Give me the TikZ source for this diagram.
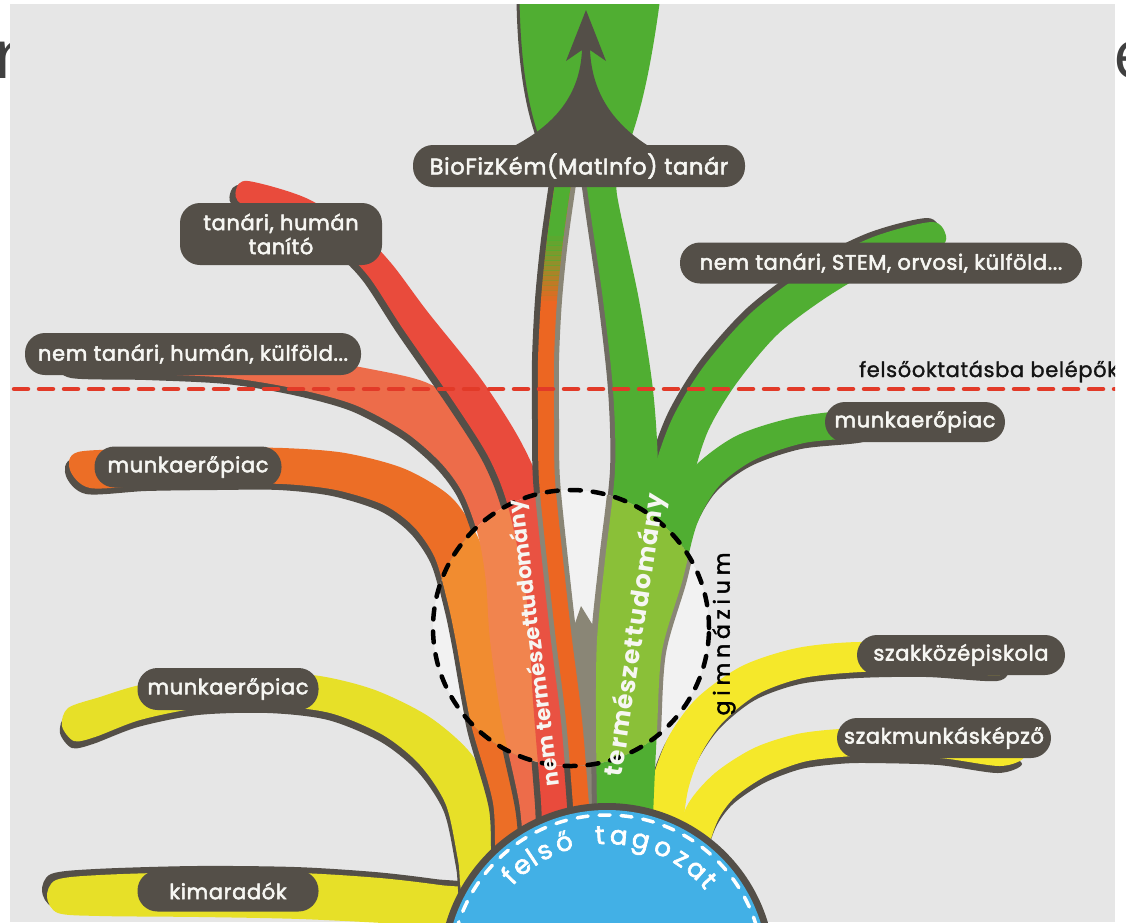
\documentclass[tikz,border=0pt]{standalone}
\usepackage{fontspec}
\setmainfont{Poppins}
\newfontfamily\titlefont{Open Sans}
\newfontfamily\lblfont{Poppins}[LetterSpace=3, FakeBold=2.5]
\newfontfamily\felfont{Poppins}[LetterSpace=3, FakeBold=1.5]
\newfontfamily\tagfont{Poppins}[FakeBold=2.5]
\newfontfamily\gimfont{Poppins}[LetterSpace=22, FakeBold=2]
\newfontfamily\termfont{Poppins}[LetterSpace=5]
\newfontfamily\nemfont{Poppins}[LetterSpace=1]
\definecolor{panel}{RGB}{230,230,230}
\definecolor{lightin}{RGB}{242,242,242}
\definecolor{dk}{RGB}{84,79,72}
\definecolor{trunk}{RGB}{138,134,118}
\definecolor{midgray}{RGB}{112,107,98}
\definecolor{cred}{RGB}{233,75,60}
\definecolor{credin}{RGB}{233,82,66}
\definecolor{csal}{RGB}{237,108,74}
\definecolor{csalin}{RGB}{241,132,78}
\definecolor{corg}{RGB}{236,110,38}
\definecolor{corgin}{RGB}{241,140,48}
\definecolor{cthin}{RGB}{236,102,34}
\definecolor{cgrn}{RGB}{80,174,50}
\definecolor{cgrnin}{RGB}{138,192,56}
\definecolor{cyl}{RGB}{231,224,40}
\definecolor{cyr}{RGB}{245,232,42}
\definecolor{cblue}{RGB}{66,176,230}
\definecolor{ctxt}{RGB}{246,246,242}
\definecolor{cdash}{RGB}{226,58,40}
\definecolor{ctitle}{RGB}{64,64,64}
\tikzset{
  lbl/.style={fill=dk, text=ctxt, rounded corners=20pt, inner sep=0pt,
    font=\lblfont\fontsize{21}{24}\selectfont, align=center},
}
\begin{document}
\begin{tikzpicture}[x=1pt,y=-1pt,line cap=round,line join=round]
\useasboundingbox (0,0) rectangle (1126,922);
% title remnants
\node[anchor=base west, inner sep=0pt, font=\titlefont\fontsize{68}{70}\selectfont, text=ctitle] (tr) at (-6,78) {r};
\node[anchor=base west, inner sep=0pt, font=\titlefont\fontsize{68}{70}\selectfont, text=ctitle] (te) at (1113,78) {e};
\fill[panel] (10,4) rectangle (1115,922);
\begin{scope}
\clip (10,4) rectangle (1115,922);
% ---------- paths
\def\pYtwo{plot[smooth cycle] coordinates {(47,897) (56,880) (100,875) (200,872) (300,873) (380,878) (440,885) (480,892) (480,930) (400,924) (300,919) (200,917) (100,916) (58,913)}}
\def\pYone{plot[smooth cycle] coordinates {(62,726) (68,708) (100,697) (140,685) (200,676) (260,672) (320,676) (375,690) (428,716) (468,750) (492,790) (502,850) (505,900) (465,900) (458,860) (446,805) (420,765) (383,735) (330,713) (270,706) (200,708) (140,720) (95,737) (74,741)}}
\def\pYRone{plot[smooth cycle] coordinates {(1012,662) (1000,649) (930,645) (858,642) (797,648) (742,666) (697,698) (669,736) (652,780) (642,827) (635,880) (675,882) (682,833) (688,790) (701,754) (723,722) (758,694) (803,678) (861,672) (930,671) (1000,675)}}
\def\pYRtwo{plot[smooth cycle] coordinates {(1024,757) (1000,744) (940,734) (870,730) (840,729) (797,734) (754,748) (715,773) (688,804) (673,847) (667,889) (701,891) (707,853) (718,820) (735,797) (766,776) (803,762) (840,757) (870,756) (940,758) (1000,766)}}
\def\pO{plot[smooth cycle] coordinates {(70,470) (78,452) (150,449) (220,448) (283,448) (345,453) (405,469) (452,498) (480,542) (492,596) (498,638) (511,716) (533,797) (539,880) (499,880) (493,803) (471,724) (456,642) (448,604) (435,558) (414,527) (384,505) (336,490) (283,484) (220,484) (150,485) (90,488)}}
\def\pS{plot[smooth cycle] coordinates {(62,358) (75,344) (150,346) (230,350) (303,358) (365,368) (425,382) (470,410) (500,450) (518,500) (528,560) (532,640) (540,720) (556,800) (567,880) (530,880) (519,802) (502,722) (490,640) (486,582) (478,535) (462,492) (440,462) (405,432) (355,405) (297,389) (230,378) (150,374) (75,372)}}
\def\pR{plot[smooth cycle] coordinates {(236,190) (248,181) (306,198) (359,231) (391,263) (427,311) (481,379) (521,442) (545,500) (563,598) (571,699) (579,799) (584,880) (546,880) (541,801) (533,701) (527,602) (509,510) (489,458) (453,401) (403,329) (369,277) (341,249) (294,218) (242,204)}}
\def\pT{plot[smooth] coordinates {(565,170) (555,240) (549,300) (546,360) (546,420) (547,480) (555,560) (564,640) (574,720) (582,820) (585,890)}}
\def\pG{plot[smooth cycle] coordinates {(586,165) (588,195) (603,300) (613,390) (615,470) (605,560) (597,640) (596,720) (597,820) (597,890) (650,890) (648,820) (648,720) (650,640) (655,560) (658,470) (653,390) (639,300) (617,195) (618,165)}}
\def\pGS{plot[smooth cycle] coordinates {(946,236) (932,222) (873,237) (810,269) (752,312) (704,366) (672,419) (652,477) (640,548) (628,640) (624,720) (620,820) (618,890) (653,890) (652,820) (655,720) (661,640) (680,552) (692,483) (708,431) (736,384) (778,334) (830,295) (887,263) (938,248)}}
\def\pGM{plot[smooth cycle] coordinates {(878,423) (864,410) (796,417) (736,436) (691,470) (663,516) (648,578) (636,649) (630,730) (627,820) (626,890) (653,890) (653,820) (657,730) (662,651) (682,582) (697,524) (719,486) (754,460) (804,443) (866,436)}}
\def\pTrunk{(581,606) -- (597,632) -- (598,890) -- (579,890) -- (572,632) -- cycle}
% ---------- yellow ribbons
\fill[dk, shift={(-5,-6)}] \pYtwo; \fill[cyl] \pYtwo;
\fill[dk, shift={(-2,7)}] \pYone; \fill[cyl] \pYone;
\fill[dk, shift={(-2,7)}] \pYRtwo; \fill[cyr] \pYRtwo;
\fill[dk, shift={(-3,6)}] \pYRone; \fill[cyr] \pYRone;
% ---------- left ribbons
\fill[dk, shift={(-4,6)}] \pO; \fill[corg] \pO;
\fill[dk, shift={(-4,6)}] \pS; \fill[csal] \pS;
\fill[dk, shift={(-6,4)}] \pR; \fill[cred] \pR;
\fill[trunk] \pTrunk;
\draw[trunk, line width=26pt] \pT;
\draw[dk, line width=20pt, shift={(-4,0)}] \pT;
\draw[cthin, line width=16pt] \pT;
\begin{scope}
  \clip (500,150) rectangle (620,235);
  \draw[cgrn, line width=16pt] \pT;
\end{scope}
\foreach \i in {0,...,12}{
  \begin{scope}
    \clip (500,{235+5*\i}) rectangle (620,{240+5*\i});
    \draw[cgrn, opacity={1-(\i+1)/14}, line width=16pt] \pT;
  \end{scope}
}
% ---------- right ribbons
\fill[dk, shift={(-3,6)}] \pGM; \fill[cgrn] \pGM;
\fill[dk, shift={(-5,-4)}] \pGS; \fill[cgrn] \pGS;
\fill[midgray, shift={(-5,0)}] \pG; \fill[cgrn] \pG;
% ---------- inside the circle
\begin{scope}
  \clip (571,628) circle[radius=138pt];
  \fill[lightin] (571,628) circle[radius=138pt];
  \fill[dk, shift={(-4,4)}] \pO; \fill[corgin] \pO;
  \fill[csalin] \pS;
  \fill[credin] \pR;
  \fill[trunk] \pTrunk;
  \draw[trunk, line width=26pt] \pT;
  \draw[cthin, line width=16pt] \pT;
  \fill[trunk, shift={(4,2)}] \pGM; \fill[cgrnin] \pGM;
  \fill[cgrnin] \pGS;
  \fill[trunk, shift={(-6,0)}] \pG; \fill[cgrnin] \pG;
\end{scope}
\draw[black, line width=4.5pt, dash pattern=on 11pt off 12pt] (571,628) circle[radius=138pt];
% ---------- texts on ribbons
\node[rotate=81.5, inner sep=0pt, text=ctxt, font=\termfont\bfseries\fontsize{25}{28}\selectfont] (tterm) at (636,635) {természettudomány};
\node[rotate=97.3, inner sep=0pt, text=ctxt, font=\nemfont\bfseries\fontsize{21.5}{26}\selectfont] (tnem) at (535,643) {nem természettudomány};
\node[rotate=90, inner sep=0pt, text=black, font=\gimfont\fontsize{22}{26}\selectfont] (tgim) at (724,634) {gimnázium};
% ---------- top leaf and arrow
\fill[cgrn] (519,0) .. controls (520,60) and (527,110) .. (542,146) -- (628,146) .. controls (642,110) and (652,60) .. (660,0) -- cycle;
\draw[dk, line width=3pt] (518,0) .. controls (519,60) and (526,110) .. (541,146);
\fill[dk] (586,10) -- (606,61) -- (590,50) .. controls (592,95) and (615,125) .. (650,147) -- (512,147) .. controls (555,125) and (580,95) .. (582,50) -- (566,61) -- cycle;
% ---------- red dashed line
\draw[cdash, line width=4.5pt, dash pattern=on 14pt off 11pt] (14,389) -- (1115,389);
\node[anchor=base west, inner sep=0pt, text=black!92, font=\felfont\fontsize{21}{24}\selectfont] (tfelso) at (859,377) {felsőoktatásba belépők};
% ---------- blue circle
\fill[dk] (607,971) circle[radius=168pt];
\fill[cblue] (607,971) circle[radius=161pt];
\draw[white, line width=3.5pt, dash pattern=on 11pt off 11pt] (607,971) circle[radius=156pt];
\foreach \ch/\a in {f/136, e/129, l/123.5, s/117.5, ő/108.5, t/93, a/85, g/75.5, o/65.5, z/56.5, a/48.5, t/41.5}{
  \node[anchor=base, rotate=\a-90, inner sep=0pt, text=white, font=\tagfont\fontsize{26}{28}\selectfont] at ({607+127*cos(\a)},{971-127*sin(\a)}) {\ch};
}
\end{scope}
% ---------- labels
\node[lbl, minimum width=332pt, minimum height=42pt, font=\lblfont\fontsize{22.5}{26}\selectfont] (lbio) at (579,166) {BioFizKém(MatInfo) tanár};
\node[lbl, minimum width=202pt, minimum height=62pt] (ltan) at (281,234) {tanári, humán\\tanító};
\node[lbl, minimum width=336pt, minimum height=42pt] (lnth) at (193,354) {nem tanári, humán, külföld...};
\node[lbl, minimum width=187pt, minimum height=41pt] (lmo) at (188,467) {munkaerőpiac};
\node[lbl, minimum width=402pt, minimum height=41pt] (lstem) at (881,263) {nem tanári, STEM, orvosi, külföld...};
\node[lbl, minimum width=180pt, minimum height=40pt] (lmg) at (915,422) {munkaerőpiac};
\node[lbl, minimum width=208pt, minimum height=40pt] (lszk) at (961,655) {szakközépiskola};
\node[lbl, minimum width=214pt, minimum height=40pt] (lszm) at (944,738) {szakmunkásképző};
\node[lbl, minimum width=181pt, minimum height=42pt] (lmy) at (228,689) {munkaerőpiac};
\node[lbl, minimum width=181pt, minimum height=41pt] (lki) at (228,891) {kimaradók};
\end{tikzpicture}
\end{document}
